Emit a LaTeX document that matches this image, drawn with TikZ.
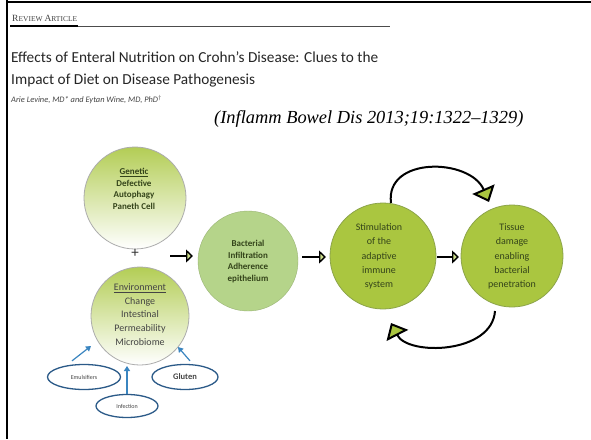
\documentclass[tikz,border=0pt]{standalone}
\usepackage{fontspec}
\setmainfont{Carlito}
\newfontfamily\timesf{Liberation Serif}
\usetikzlibrary{arrows.meta,shapes.geometric}
\definecolor{gencol}{HTML}{B3CD55}
\definecolor{bactcol}{HTML}{B5D48A}
\definecolor{stimcol}{HTML}{AAC640}
\definecolor{stimline}{HTML}{8CA44A}
\definecolor{ellcol}{HTML}{2B5A88}
\definecolor{arrblue}{HTML}{3A85C0}
\definecolor{txtgreen}{HTML}{34441A}
\definecolor{txtgray}{HTML}{444444}
\begin{document}
\begin{tikzpicture}[x=1pt,y=-1pt,
  gcirc/.style={circle,draw=gray!65,line width=0.8pt,top color=gencol,bottom color=white,middle color=gencol!50,minimum size=#1,inner sep=0pt},
  bcirc/.style={circle,draw=bactcol!85!black,line width=0.4pt,fill=bactcol,minimum size=#1,inner sep=0pt},
  scirc/.style={circle,draw=stimline,line width=0.8pt,fill=stimcol,minimum size=#1,inner sep=0pt},
  ctext/.style={align=center,font=\fontsize{9}{11.5}\selectfont\bfseries,text=txtgreen},
  etext/.style={align=center,font=\fontsize{10}{13.7}\selectfont,text=txtgray},
  stext/.style={align=center,font=\fontsize{10}{14.3}\selectfont,text=txtgreen},
  sarrow/.style={line width=1.4pt,-{Triangle[length=7pt,width=13pt,fill=stimcol!60]}},
  carrow/.style={line width=2pt,-{Triangle[length=14pt,width=24pt,fill=stimcol]}},
  barrow/.style={line width=1.2pt,draw=arrblue,-{Triangle[length=5pt,width=6pt]}},
  ell/.style={ellipse,draw=ellcol,line width=1.3pt,inner sep=0pt,text=txtgray}]
\useasboundingbox (0,0) rectangle (591,439);
\fill[white] (0,0) rectangle (591,439);
% frame
\draw[line width=2pt] (7,1.5) -- (591,1.5);
\draw[line width=2.5pt] (7,0) -- (7,439);
% header
\node[anchor=base west,inner sep=0pt,text=txtgray] (rev) at (12,21) {\timesf\fontsize{9.5}{10}\selectfont R\fontsize{7.5}{8}\selectfont EVIEW \fontsize{9.5}{10}\selectfont A\fontsize{7.5}{8}\selectfont RTICLE};
\draw[line width=0.7pt,gray!60!black] (10,26) -- (390,26);
\draw[line width=2pt,black] (10,26) -- (78,26);
\node[anchor=base west,inner sep=0pt,text=black!85] (t1) at (11,62) {\fontsize{15.3}{16}\selectfont Effects of Enteral Nutrition on Crohn’s Disease: Clues to the};
\node[anchor=base west,inner sep=0pt,text=black!85] (t2) at (11,84) {\fontsize{15.3}{16}\selectfont Impact of Diet on Disease Pathogenesis};
\node[anchor=base west,inner sep=0pt,text=txtgray] (auth) at (11,102) {\fontsize{8.4}{9}\selectfont\itshape Arie Levine, MD* and Eytan Wine, MD, PhD$^\dagger$};
\node[anchor=base west,inner sep=0pt] (cite) at (214,123) {\timesf\itshape\fontsize{18.4}{20}\selectfont (Inflamm Bowel Dis 2013;19:1322–1329)};
% circles
\node[gcirc=102pt] (gen) at (135,198) {};
\node[ctext] (gentxt) at (134,189) {\underline{Genetic}\\Defective\\Autophagy\\Paneth Cell};
\node[font=\fontsize{15}{16}\selectfont,text=black!80,inner sep=0pt] (plus) at (135,253) {+};
\node[gcirc=98pt] (env) at (140,316) {};
\node[etext] (envtxt) at (140,314.5) {\underline{Environment}\\Change\\Intestinal\\Permeability\\Microbiome};
\node[bcirc=100pt] (bact) at (248,261) {};
\node[ctext] (bacttxt) at (248,261.5) {Bacterial\\Infiltration\\Adherence\\epithelium};
\node[scirc=106pt] (stim) at (383,256) {};
\node[stext] (stimtxt) at (379,256.5) {Stimulation\\of the\\adaptive\\immune\\system};
\node[scirc=102pt] (tis) at (512,256) {};
\node[stext] (tistxt) at (512,256.5) {Tissue\\damage\\enabling\\bacterial\\penetration};
% straight arrows
\coordinate (a1s) at (170,256); \coordinate (a1e) at (193,256);
\coordinate (a2s) at (302,257); \coordinate (a2e) at (326,257);
\coordinate (a3s) at (437,257); \coordinate (a3e) at (459,257);
\draw[sarrow] (a1s) -- (a1e);
\draw[sarrow] (a2s) -- (a2e);
\draw[sarrow] (a3s) -- (a3e);
% curved arrows
\coordinate (c1s) at (391,203); \coordinate (c1e) at (489,202);
\draw[carrow] (c1s) .. controls (385,156) and (470,158) .. (c1e);
\coordinate (c2s) at (495,311); \coordinate (c2e) at (391,323);
\draw[carrow] (c2s) .. controls (492,354) and (408,356) .. (c2e);
% ellipses
\node[ell,minimum width=73pt,minimum height=25pt,font=\fontsize{6}{7}\selectfont] (emu) at (84,377) {Emulsifiers};
\node[ell,minimum width=66pt,minimum height=25pt,font=\fontsize{8.5}{9}\selectfont\bfseries] (glu) at (185,377) {Gluten};
\node[ell,minimum width=62pt,minimum height=23pt,font=\fontsize{6}{7}\selectfont] (inf) at (127,406) {Infection};
% blue arrows
\coordinate (b1e) at (91,346);
\coordinate (b3e) at (178,347);
\coordinate (b2e) at (127,366);
\draw[barrow] ([shift={(-12,-3)}]emu.north) -- (b1e);
\draw[barrow] (inf.north) -- (b2e);
\draw[barrow] ([shift={(5,-3)}]glu.north) -- (b3e);
\end{tikzpicture}
\end{document}
